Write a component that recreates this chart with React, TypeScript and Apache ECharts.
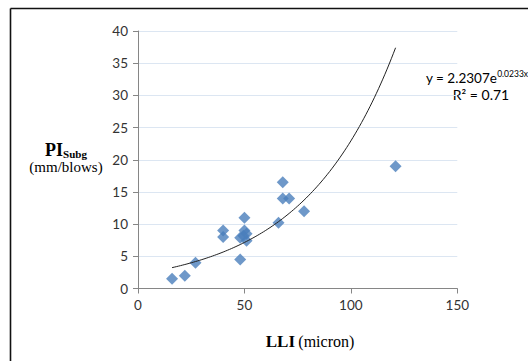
import React, { useEffect, useRef } from "react";
import * as echarts from "echarts";

const lliValues = [16, 22, 27, 40, 40, 48, 48, 50, 50, 51, 51, 49.5, 66, 68, 68, 71, 78, 121];
const piValues = [1.5, 2, 4, 9, 8, 4.5, 7.9, 11, 9, 8.5, 7.4, 8.2, 10.2, 16.5, 14, 14, 12, 19];
const trendA = 2.2307;
const trendB = 0.0233;
const trendRange = [16, 121];
const xTicks = [0, 150, 50];
const yTicks = [0, 40, 5];

export default function App() {
  const ref = useRef<HTMLDivElement>(null);
  useEffect(() => {
    const chart = echarts.init(ref.current!, null, { renderer: "svg" });
    const points = lliValues.map((x, i) => [x, piValues[i]]);
    const trend: number[][] = [];
    for (let x = trendRange[0]; x <= trendRange[1]; x += 1) {
      trend.push([x, trendA * Math.exp(trendB * x)]);
    }
    const calibri = "Lato, 'Open Sans', sans-serif";
    chart.setOption({
      animation: false,
      backgroundColor: "#ffffff",
      grid: { left: 138, right: 70.7, top: 31, bottom: 72.5 },
      xAxis: {
        type: "value",
        min: xTicks[0],
        max: xTicks[1],
        interval: xTicks[2],
        axisLine: { show: true, onZero: false, lineStyle: { color: "#868686", width: 1 } },
        axisTick: { show: true, inside: false, length: 5, lineStyle: { color: "#868686" } },
        axisLabel: { color: "#333", fontFamily: calibri, fontSize: 13.5, margin: 9 },
        splitLine: { show: false },
      },
      yAxis: {
        type: "value",
        min: yTicks[0],
        max: yTicks[1],
        interval: yTicks[2],
        axisLine: { show: true, onZero: false, lineStyle: { color: "#868686", width: 1 } },
        axisTick: { show: true, inside: false, length: 5, lineStyle: { color: "#868686" } },
        axisLabel: { color: "#333", fontFamily: calibri, fontSize: 13.5, margin: 10 },
        splitLine: { show: true, lineStyle: { color: "#dce6f2", width: 1 } },
      },
      series: [
        {
          type: "line",
          data: trend,
          showSymbol: false,
          smooth: false,
          lineStyle: { color: "#222", width: 1 },
          z: 3,
        },
        {
          type: "scatter",
          data: points,
          symbol: "diamond",
          symbolSize: 12,
          itemStyle: { color: "#4a7ebb" },
          z: 2,
        },
      ],
      graphic: [
        {
          type: "line",
          shape: { x1: 10.5, y1: 8.5, x2: 540, y2: 8.5 },
          style: { stroke: "#111", lineWidth: 1.6 },
        },
        {
          type: "line",
          shape: { x1: 10.5, y1: 8.5, x2: 10.5, y2: 370 },
          style: { stroke: "#111", lineWidth: 1.6 },
        },
        {
          type: "text",
          x: 66,
          y: 150,
          style: {
            text: "{b|PI}{s|Subg}",
            align: "center",
            verticalAlign: "middle",
            rich: {
              b: { fontFamily: "'Liberation Serif', serif", fontWeight: "bold", fontSize: 18, fill: "#000", verticalAlign: "bottom" },
              s: { fontFamily: "'Liberation Serif', serif", fontWeight: "bold", fontSize: 11, fill: "#000", padding: [6, 0, 0, 0], verticalAlign: "bottom" },
            },
          },
        },
        {
          type: "text",
          x: 66,
          y: 167,
          style: {
            text: "(mm/blows)",
            align: "center",
            verticalAlign: "middle",
            fontFamily: "'Liberation Serif', serif",
            fontSize: 15,
            fill: "#000",
          },
        },
        {
          type: "text",
          x: 310,
          y: 341,
          style: {
            text: "{b|LLI} {n|(micron)}",
            align: "center",
            verticalAlign: "middle",
            rich: {
              b: { fontFamily: "'Liberation Serif', serif", fontWeight: "bold", fontSize: 17, fill: "#000" },
              n: { fontFamily: "'Liberation Serif', serif", fontSize: 16, fill: "#000" },
            },
          },
        },
        {
          type: "text",
          x: 426,
          y: 77,
          style: {
            text: "{m|y = 2.2307e}{p|0.0233x}",
            align: "left",
            verticalAlign: "middle",
            rich: {
              m: { fontFamily: calibri, fontSize: 13.5, fill: "#000", verticalAlign: "bottom" },
              p: { fontFamily: calibri, fontSize: 8.5, fill: "#000", padding: [0, 0, 7, 0], verticalAlign: "bottom" },
            },
          },
        },
        {
          type: "text",
          x: 481,
          y: 94,
          style: {
            text: "R² = 0.71",
            align: "center",
            verticalAlign: "middle",
            fontFamily: calibri,
            fontSize: 14,
            fill: "#000",
          },
        },
      ],
    });
    return () => chart.dispose();
  }, []);
  return <div ref={ref} style={{ width: 528, height: 361, position: "absolute", left: 0, top: 0 }} />;
}
